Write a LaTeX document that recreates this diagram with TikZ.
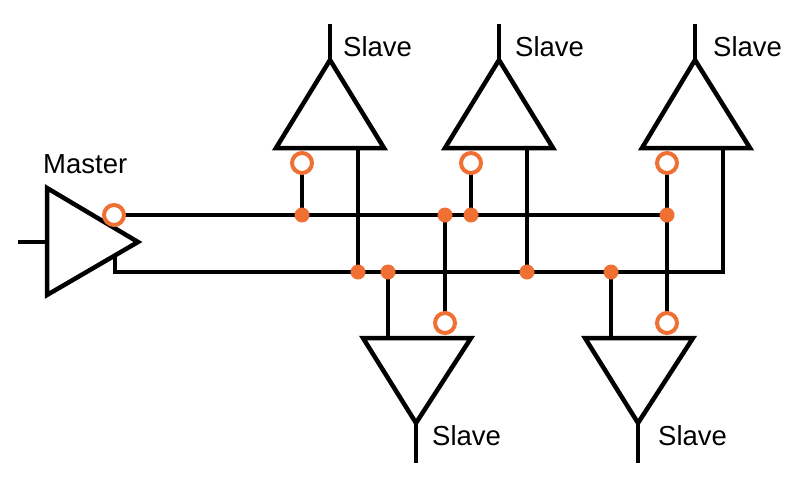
\documentclass[tikz,border=0pt]{standalone}
\usepackage{fontspec}
\setmainfont{Liberation Sans}
\definecolor{busorange}{RGB}{240,112,52}
\begin{document}
\begin{tikzpicture}[x=1pt,y=-1pt,
  wire/.style={line width=4.5pt,black},
  gate/.style={line width=4.5pt,black,fill=white,line join=miter},
  ring/.style={line width=4pt,draw=busorange,fill=white},
  joint/.style={fill=busorange},
  lbl/.style={anchor=base west,inner sep=0pt,font=\fontsize{27.5}{32}\selectfont}]
\useasboundingbox (0,0) rectangle (800,488);
% master
\coordinate (mIn) at (18,242);
\coordinate (mL) at (47,242);
\coordinate (mO) at (114,215);
\coordinate (mB) at (115,255);
% top slaves
\foreach \n/\a/\l/\c/\r in {t1/330/276/302/358, t2/499/445/471/527, t3/695/642/667/723}{
  \coordinate (\n apex) at (\a,60);
  \coordinate (\n out) at (\a,24);
  \coordinate (\n bl) at (\l,148);
  \coordinate (\n br) at (\l+108,148);
  \coordinate (\n ring) at (\c,163);
  \coordinate (\n tap) at (\c,215);
  \coordinate (\n ret) at (\r,148);
  \coordinate (\n rtap) at (\r,272);
}
% bottom slaves
\foreach \n/\a/\l/\c/\r in {b1/416/363/445/388, b2/638/585/667/611}{
  \coordinate (\n apex) at (\a,423);
  \coordinate (\n out) at (\a,463);
  \coordinate (\n bl) at (\l,338);
  \coordinate (\n br) at (\l+108,338);
  \coordinate (\n ring) at (\c,323);
  \coordinate (\n tap) at (\c,215);
  \coordinate (\n ret) at (\r,338);
  \coordinate (\n rtap) at (\r,272);
}
\coordinate (busAend) at (667,215);
\coordinate (busBstart) at (115,272);
\coordinate (busBend) at (723,272);

% wires
\draw[wire] (mIn) -- (mL);
\draw[wire] (mO) -- (busAend);
\draw[wire,line join=miter] (mB) -- (busBstart) -- (busBend) -- (t3ret);
\foreach \n in {t1,t2,t3}{
  \draw[wire] (\n apex) -- (\n out);
  \draw[wire] (\n ring) -- (\n tap);
  \draw[wire] (\n ret) -- (\n rtap);
}
\foreach \n in {b1,b2}{
  \draw[wire] (\n apex) -- (\n out);
  \draw[wire] (\n ret) -- (\n rtap);
}
\draw[wire] (b1ring) -- (b1tap);
\draw[wire] (b2ring) -- (t3ring);

% gates
\draw[gate] (47,188) -- (138,242) -- (47,295) -- cycle;
\foreach \n in {t1,t2,t3,b1,b2}{
  \draw[gate] (\n apex) -- (\n bl) -- (\n br) -- cycle;
}

% rings
\draw[ring] (mO) circle (10pt);
\foreach \n in {t1,t2,t3,b1,b2}{
  \draw[ring] (\n ring) circle (10pt);
}
% joints
\foreach \x/\y in {302/215,445/215,471/215,667/215,358/272,388/272,527/272,611/272}{
  \fill[joint] (\x,\y) circle (7.5pt);
}

% labels
\node[lbl] (lm) at (43,173) {Master};
\node[lbl] (l1) at (343,56) {Slave};
\node[lbl] (l2) at (515,56) {Slave};
\node[lbl] (l3) at (713,56) {Slave};
\node[lbl] (l4) at (432,445) {Slave};
\node[lbl] (l5) at (658,445) {Slave};
\end{tikzpicture}
\end{document}
